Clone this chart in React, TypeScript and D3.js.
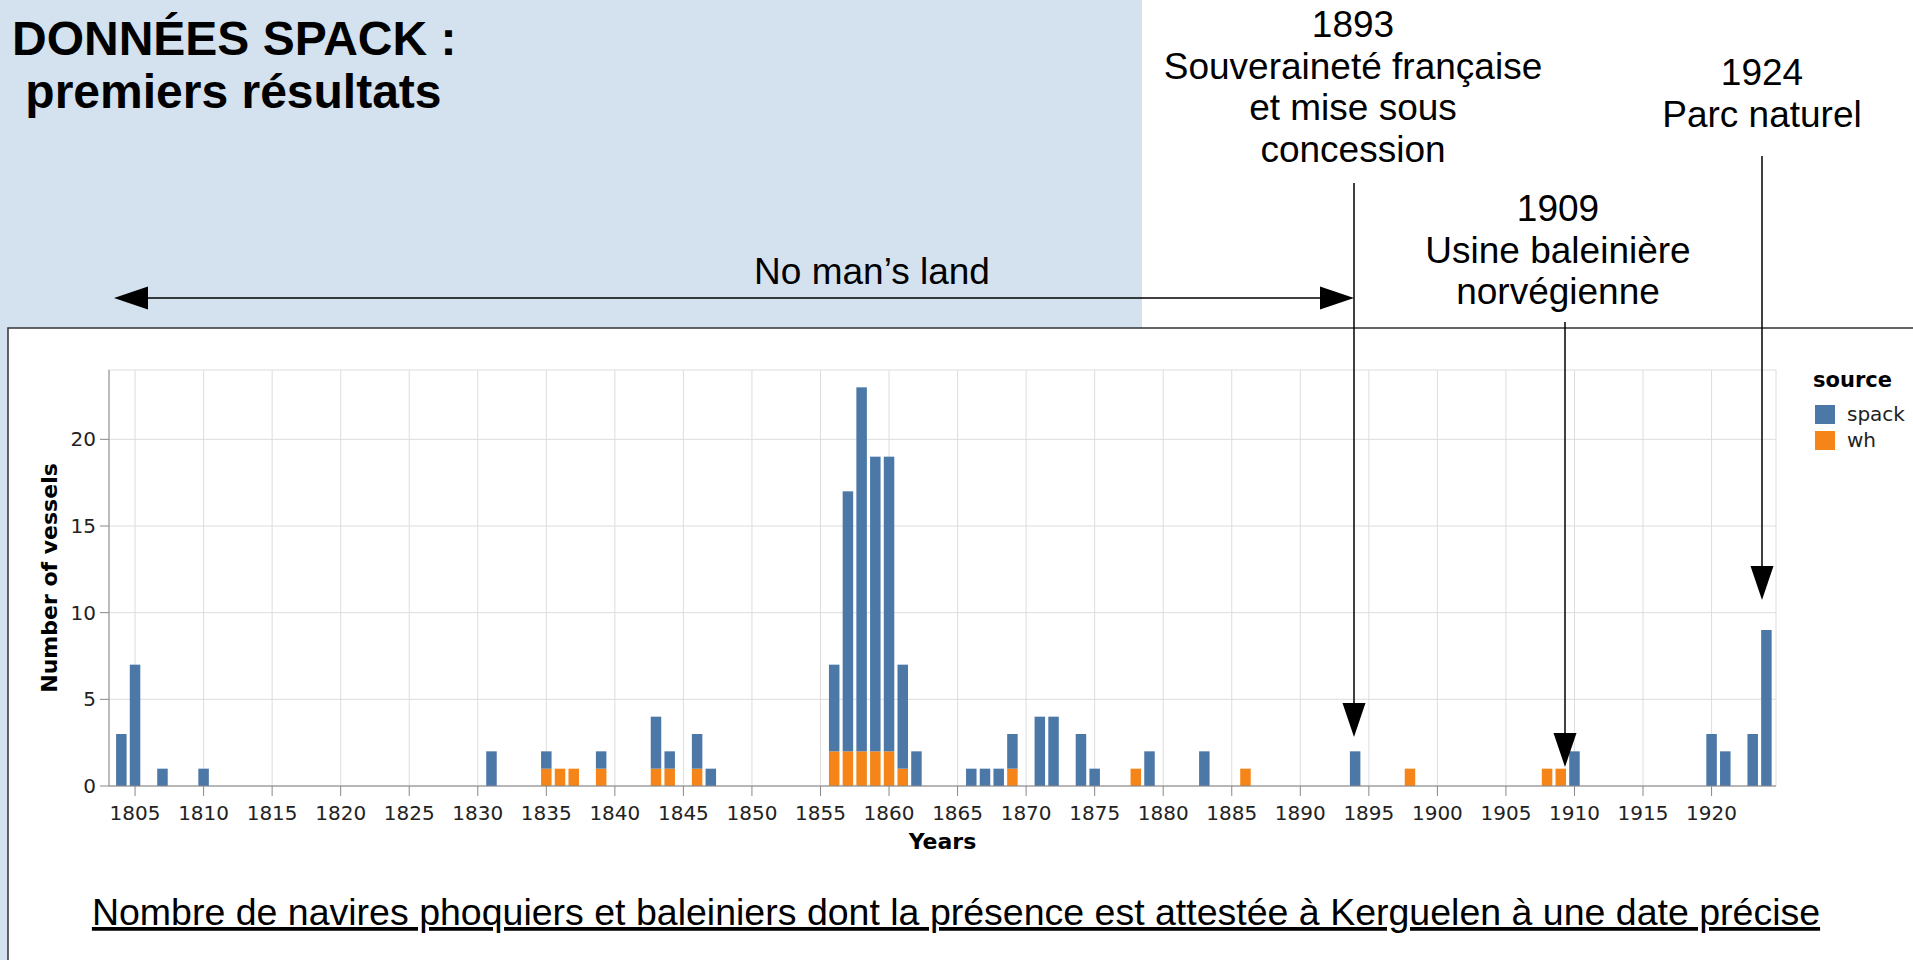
import React from "react";
import * as d3 from "d3";

// ---- Data ----
const years = [1804,1805,1807,1810,1831,1835,1836,1837,1839,1843,1844,1846,1847,1856,1857,1858,1859,1860,1861,1862,1866,1867,1868,1869,1871,1872,1874,1875,1878,1879,1883,1886,1894,1898,1908,1909,1910,1920,1921,1923,1924];
const spack = [3,7,1,1,2,1,0,0,1,3,1,2,1,5,15,21,17,17,6,2,1,1,1,2,4,4,3,1,0,2,2,0,2,0,0,0,2,3,2,3,9];
const wh    = [0,0,0,0,0,1,1,1,1,1,1,1,0,2,2,2,2,2,1,0,0,0,0,1,0,0,0,0,1,0,0,1,0,1,1,1,0,0,0,0,0];
const seriesKeys = ["wh", "spack"];
const legendLabels = ["spack", "wh"];
const xTicks = d3.range(1805, 1921, 5);
const yTicks = [0, 5, 10, 15, 20];
const titleLines = ["DONNÉES SPACK :", " premiers résultats"];
const caption = "Nombre de navires phoquiers et baleiniers dont la présence est attestée à Kerguelen à une date précise";

const annotations = [
  { lines: ["1893", "Souveraineté française", "et mise sous", "concession"], cx: 1353, y0: 37, ax: 1354, top: 183, tip: 737 },
  { lines: ["1909", "Usine baleinière", "norvégienne"], cx: 1558, y0: 221, ax: 1565, top: 322, tip: 767 },
  { lines: ["1924", "Parc naturel"], cx: 1762, y0: 85, ax: 1762, top: 156, tip: 600 },
];

const COLORS: Record<string, string> = { spack: "#4c78a8", wh: "#f58518" };

export default function App() {
  const W = 1913, H = 960;
  const L = 109, R = 1776, T = 370, B = 786;
  const x = d3.scaleLinear().domain([1803.1, 1924.7]).range([L, R]);
  const y = d3.scaleLinear().domain([0, 24]).range([B, T]);
  const barW = 10.5;

  const table = years.map((yr, i) => ({ year: yr, wh: wh[i], spack: spack[i] }));
  const stacked = d3.stack<any>().keys(seriesKeys)(table);

  const sans = "'Liberation Sans', Arial, sans-serif";
  const vega = "'DejaVu Sans', sans-serif";
  const head = 34, hw = 11.5;

  return (
    <svg width={W} height={H} style={{ position: "absolute", left: 0, top: 0 }}>
      <rect x={0} y={0} width={1142} height={H} fill="#d4e1ee" />
      <rect x={8} y={328} width={W} height={H} fill="#fff" stroke="#333" strokeWidth={1.5} />

      {/* Title */}
      {titleLines.map((t, i) => (
        <text key={i} x={12} y={55 + i * 53} fontFamily={sans} fontWeight="bold" fontSize={48} fill="#000" style={{ whiteSpace: "pre" }}>{t}</text>
      ))}

      {/* grid */}
      {xTicks.map((t) => (
        <line key={"gx" + t} x1={x(t)} x2={x(t)} y1={T} y2={B} stroke="#ddd" strokeWidth={1} />
      ))}
      {yTicks.map((t) => (
        <line key={"gy" + t} x1={L} x2={R} y1={y(t)} y2={y(t)} stroke="#ddd" strokeWidth={1} />
      ))}
      <rect x={L} y={T} width={R - L} height={B - T} fill="none" stroke="#ddd" strokeWidth={1} />

      {/* bars */}
      {stacked.map((s) => (
        <g key={s.key} fill={COLORS[s.key]}>
          {s.map((d: any, i: number) =>
            d[1] > d[0] ? (
              <rect key={i} x={x(d.data.year) - barW / 2} y={y(d[1])} width={barW} height={y(d[0]) - y(d[1])} />
            ) : null
          )}
        </g>
      ))}

      {/* axes */}
      <line x1={L} x2={R} y1={B} y2={B} stroke="#888" strokeWidth={1} />
      <line x1={L} x2={L} y1={T} y2={B} stroke="#888" strokeWidth={1} />
      {xTicks.map((t) => (
        <g key={"xt" + t}>
          <line x1={x(t)} x2={x(t)} y1={B} y2={B + 10} stroke="#888" />
          <text x={x(t)} y={820} textAnchor="middle" fontFamily={vega} fontSize={20} fill="#222">{t}</text>
        </g>
      ))}
      {yTicks.map((t) => (
        <g key={"yt" + t}>
          <line x1={L - 9} x2={L} y1={y(t)} y2={y(t)} stroke="#888" />
          <text x={96} y={y(t) + 7} textAnchor="end" fontFamily={vega} fontSize={20} fill="#222">{t}</text>
        </g>
      ))}
      <text x={942.5} y={849} textAnchor="middle" fontFamily={vega} fontWeight="bold" fontSize={22} fill="#000">Years</text>
      <text transform={`translate(57, ${(T + B) / 2}) rotate(-90)`} textAnchor="middle" fontFamily={vega} fontWeight="bold" fontSize={22} fill="#000">Number of vessels</text>

      {/* legend */}
      <text x={1813} y={387} fontFamily={vega} fontWeight="bold" fontSize={21} fill="#000">source</text>
      {legendLabels.map((k, i) => (
        <g key={k}>
          <rect x={1815} y={405 + i * 26} width={20} height={19} fill={COLORS[k]} />
          <text x={1847} y={421 + i * 26} fontFamily={vega} fontSize={20} fill="#222">{k}</text>
        </g>
      ))}

      {/* No man's land */}
      <text x={872} y={284} textAnchor="middle" fontFamily={sans} fontSize={37} fill="#000">No man’s land</text>
      <line x1={114 + head} x2={1354 - head} y1={298} y2={298} stroke="#000" strokeWidth={1.5} />
      <polygon points={`114,298 ${114 + head},${298 - hw} ${114 + head},${298 + hw}`} fill="#000" />
      <polygon points={`1354,298 ${1354 - head},${298 - hw} ${1354 - head},${298 + hw}`} fill="#000" />

      {/* annotations */}
      {annotations.map((a, i) => (
        <g key={i}>
          {a.lines.map((l, j) => (
            <text key={j} x={a.cx} y={a.y0 + j * 41.5} textAnchor="middle" fontFamily={sans} fontSize={37} fill="#000">{l}</text>
          ))}
          <line x1={a.ax} x2={a.ax} y1={a.top} y2={a.tip - head} stroke="#000" strokeWidth={1.5} />
          <polygon points={`${a.ax},${a.tip} ${a.ax - hw},${a.tip - head} ${a.ax + hw},${a.tip - head}`} fill="#000" />
        </g>
      ))}

      {/* caption */}
      <text x={956} y={925} textAnchor="middle" fontFamily={sans} fontSize={37.5} fill="#000" textDecoration="underline">{caption}</text>
    </svg>
  );
}
